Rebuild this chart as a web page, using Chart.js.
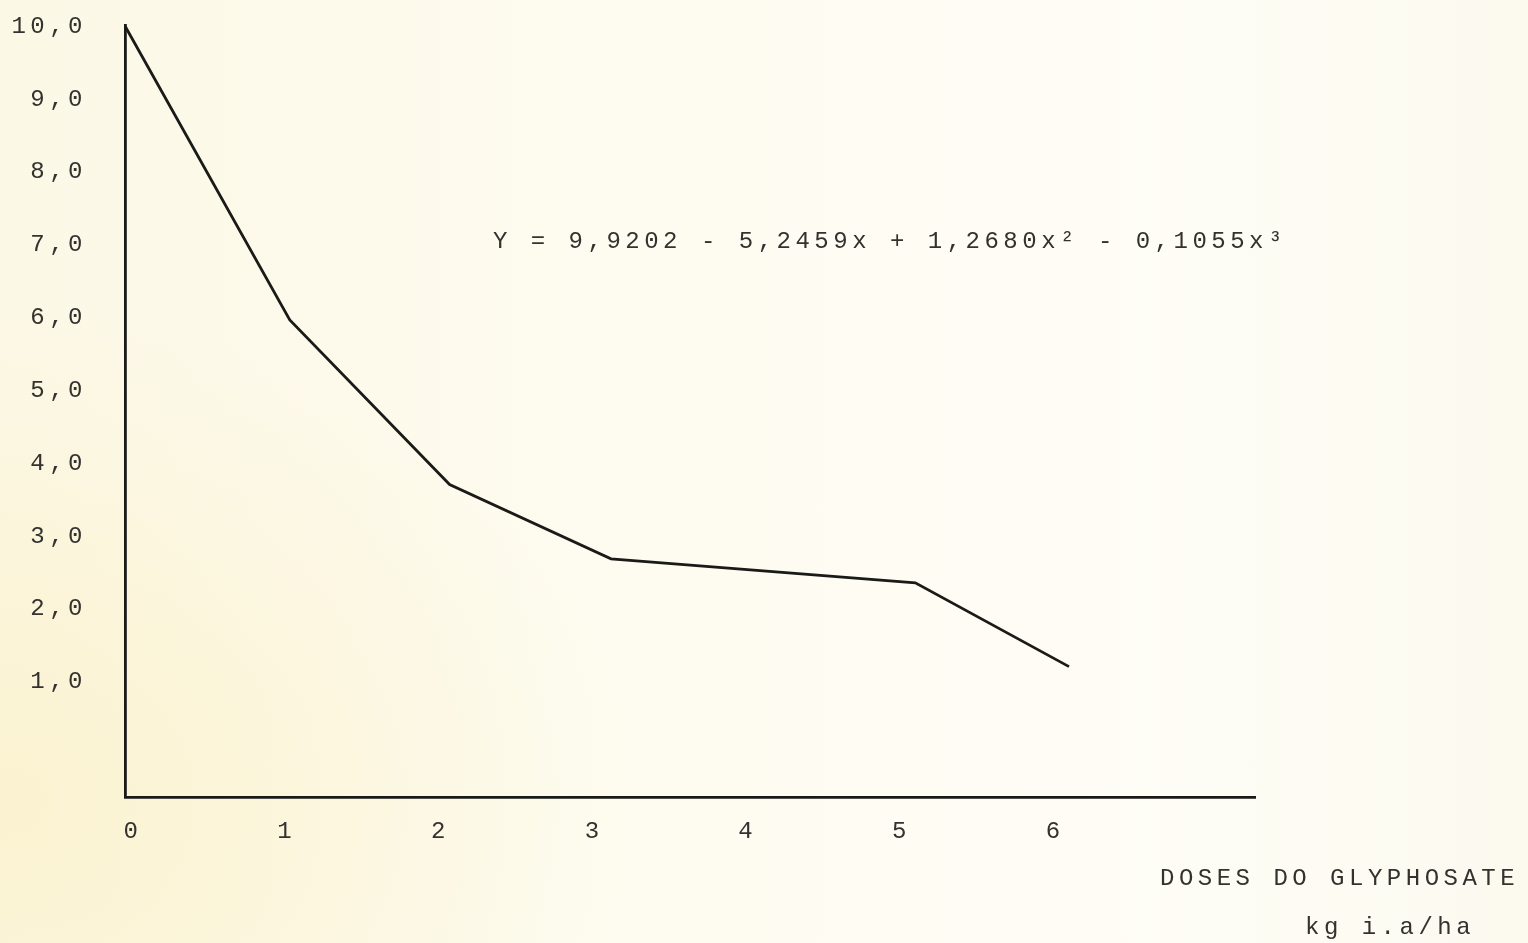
<!DOCTYPE html>
<html>
<head>
<meta charset="utf-8">
<script src="https://cdn.jsdelivr.net/npm/chart.js@4.4.1/dist/chart.umd.min.js"></script>
<style>
  html, body { margin: 0; padding: 0; }
  body {
    width: 1528px; height: 943px; overflow: hidden;
    background:
      radial-gradient(ellipse 900px 700px at 0% 85%, rgba(250,240,200,0.75), rgba(250,240,200,0) 70%),
      linear-gradient(90deg, #fcf8e6 0%, #fefcf1 45%, #fefdf6 75%, #fcfaef 100%);
  }
  canvas { display: block; }
</style>
</head>
<body>
<canvas id="chart" width="1528" height="943"></canvas>
<script>
// Glyphosate dose curve
const doses     = [-0.05, 1.02, 2.06, 3.11, 5.09, 6.09];   // kg i.a/ha
const response  = [10.0, 5.97, 3.71, 2.69, 2.36, 1.21];
const xTickVals = [0, 1, 2, 3, 4, 5, 6];
const yTickVals = [1, 2, 3, 4, 5, 6, 7, 8, 9, 10];

const equation   = "Y = 9,9202 - 5,2459x + 1,2680x² - 0,1055x³";
const xTitle     = "DOSES DO GLYPHOSATE";
const xUnits     = "kg i.a/ha";

const TYPE_FONT = "'Liberation Mono', 'DejaVu Sans Mono', monospace";
const INK       = "#1a1a18";
const TEXT_INK  = "#33322f";
const SPACING   = "4.5px";

// typewriter pitch: widen mono glyph spacing for the whole draw
const typewriter = {
  id: "typewriter",
  beforeLayout(chart) { chart.ctx.letterSpacing = SPACING; },
  beforeDraw(chart)   { chart.ctx.letterSpacing = SPACING; },
  afterDraw(chart) {
    const { ctx } = chart;
    ctx.save();
    ctx.letterSpacing = SPACING;
    ctx.fillStyle = TEXT_INK;
    ctx.textBaseline = "middle";
    ctx.textAlign = "left";
    ctx.font = "24px " + TYPE_FONT;
    ctx.fillText(equation, 493, 242);
    ctx.fillText(xTitle, 1160, 879);
    ctx.fillText(xUnits, 1305, 928);
    ctx.restore();
  },
};

new Chart(document.getElementById("chart"), {
  type: "line",
  data: {
    datasets: [{
      data: doses.map((d, i) => ({ x: d, y: response[i] })),
      borderColor: INK,
      borderWidth: 2.8,
      pointRadius: 0,
      tension: 0,
      clip: false,
    }],
  },
  options: {
    responsive: false,
    animation: false,
    devicePixelRatio: 1,
    layout: { padding: { top: 25, right: 273, bottom: 0, left: 0 } },
    plugins: { legend: { display: false }, tooltip: { enabled: false } },
    scales: {
      x: {
        type: "linear",
        min: -0.052,
        max: 7.30,
        afterBuildTicks: s => { s.ticks = xTickVals.map(v => ({ value: v })); },
        afterFit: s => { s.height = 146; s.paddingLeft = 0; s.paddingRight = 0; },
        grid: { display: false, drawTicks: false },
        border: { display: true, color: INK, width: 2.8 },
        ticks: {
          padding: 20,
          color: TEXT_INK,
          font: { family: TYPE_FONT, size: 24 },
          callback: v => String(v),
        },
      },
      y: {
        type: "linear",
        min: -0.58,
        max: 10.02,
        afterBuildTicks: s => { s.ticks = yTickVals.map(v => ({ value: v })); },
        afterFit: s => { s.width = 125; s.paddingTop = 0; s.paddingBottom = 0; },
        grid: { display: false, drawTicks: false },
        border: { display: true, color: INK, width: 2.8 },
        ticks: {
          padding: 38,
          color: TEXT_INK,
          font: { family: TYPE_FONT, size: 24 },
          callback: v => v.toFixed(1).replace(".", ","),
        },
      },
    },
  },
  plugins: [typewriter],
});
</script>
</body>
</html>
